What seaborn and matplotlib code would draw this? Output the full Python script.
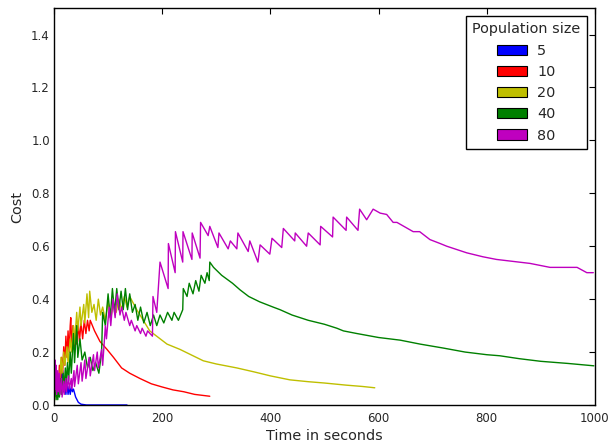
import matplotlib
matplotlib.use("Agg")
import matplotlib.pyplot as plt
from matplotlib.patches import Patch
import seaborn as sns
import pandas as pd

# ---- data ----
series_names = ["5", "10", "20", "40", "80"]
series_colors = ["#0000ff", "#ff0000", "#bfbf00", "#008000", "#bf00bf"]

t_5 = [0, 2, 4, 6, 8, 10, 12, 14, 16, 18, 20, 22, 24, 26, 28, 30, 32, 34, 36, 40, 45, 50, 60, 135]
c_5 = [0.15, 0.05, 0.12, 0.03, 0.10, 0.04, 0.15, 0.06, 0.13, 0.05, 0.10, 0.04, 0.08, 0.04, 0.07,
       0.04, 0.07, 0.05, 0.06, 0.03, 0.01, 0.003, 0.0, 0.0]

t_10 = [0, 2, 4, 6, 8, 10, 12, 14, 16, 18, 20, 22, 24, 26, 28, 30, 31, 33, 35, 37, 40, 42, 45, 47,
        50, 53, 56, 59, 62, 65, 67, 75, 85, 98, 110, 125, 140, 159, 180, 200, 220, 240, 260, 288]
c_10 = [0.05, 0.10, 0.04, 0.12, 0.06, 0.15, 0.08, 0.18, 0.12, 0.22, 0.15, 0.26, 0.18, 0.28, 0.20,
        0.30, 0.33, 0.22, 0.30, 0.21, 0.30, 0.23, 0.31, 0.24, 0.31, 0.25, 0.32, 0.27, 0.32, 0.28,
        0.32, 0.28, 0.24, 0.21, 0.18, 0.14, 0.12, 0.10, 0.08, 0.068, 0.057, 0.05, 0.04, 0.033]

t_20 = [0, 1, 3, 5, 8, 10, 13, 15, 18, 20, 24, 26, 30, 32, 36, 38, 42, 44, 48, 50, 55, 57, 61, 64,
        66, 70, 74, 78, 82, 86, 90, 95, 100, 105, 110, 115, 120, 125, 130, 135, 140, 153, 165,
        177, 209, 233, 276, 300, 338, 370, 400, 436, 470, 500, 540, 570, 593]
c_20 = [0.0, 0.02, 0.05, 0.03, 0.10, 0.08, 0.18, 0.12, 0.20, 0.15, 0.22, 0.16, 0.25, 0.20, 0.30,
        0.23, 0.35, 0.28, 0.37, 0.30, 0.38, 0.31, 0.42, 0.33, 0.43, 0.35, 0.38, 0.32, 0.40, 0.34,
        0.37, 0.32, 0.39, 0.33, 0.38, 0.35, 0.40, 0.36, 0.41, 0.37, 0.41, 0.36, 0.32, 0.28, 0.23,
        0.21, 0.167, 0.155, 0.14, 0.125, 0.11, 0.095, 0.088, 0.083, 0.075, 0.07, 0.065]

t_40 = [0, 1, 3, 4, 6, 7, 9, 10, 13, 14, 17, 18, 21, 22, 25, 27, 30, 32, 36, 38, 42, 44, 48, 52,
        57, 62, 67, 72, 77, 83, 88, 90, 95, 100, 104, 108, 112, 116, 120, 124, 128, 132, 136, 140,
        145, 150, 155, 160, 166, 172, 178, 184, 190, 196, 203, 210, 218, 222, 230, 238, 239, 246,
        250, 257, 262, 268, 272, 279, 283, 287, 288, 295, 300, 310, 330, 344, 360, 380, 405, 418,
        440, 470, 500, 523, 535, 560, 600, 640, 677, 720, 760, 800, 824, 860, 900, 950, 998]
c_40 = [0.20, 0.03, 0.15, 0.02, 0.10, 0.02, 0.08, 0.03, 0.10, 0.04, 0.12, 0.05, 0.14, 0.07, 0.16,
        0.09, 0.20, 0.12, 0.27, 0.16, 0.30, 0.18, 0.25, 0.17, 0.20, 0.14, 0.18, 0.13, 0.16, 0.12,
        0.20, 0.35, 0.30, 0.42, 0.33, 0.44, 0.35, 0.44, 0.36, 0.43, 0.36, 0.44, 0.36, 0.42, 0.35,
        0.38, 0.32, 0.37, 0.31, 0.35, 0.30, 0.34, 0.30, 0.34, 0.31, 0.35, 0.32, 0.35, 0.32, 0.36,
        0.44, 0.41, 0.46, 0.42, 0.47, 0.43, 0.49, 0.46, 0.50, 0.47, 0.54, 0.52, 0.51, 0.49, 0.46,
        0.435, 0.41, 0.39, 0.37, 0.36, 0.34, 0.32, 0.305, 0.29, 0.28, 0.27, 0.255, 0.245, 0.23,
        0.215, 0.20, 0.19, 0.186, 0.175, 0.165, 0.157, 0.148]

t_80 = [0, 1, 2, 3, 4, 5, 7, 8, 10, 11, 14, 15, 18, 19, 22, 23, 27, 28, 32, 33, 37, 38, 43, 45,
        50, 52, 57, 59, 65, 67, 73, 75, 80, 82, 88, 90, 95, 97, 102, 105, 109, 113, 117, 122, 125,
        130, 133, 140, 143, 150, 153, 160, 163, 170, 173, 182, 183, 190, 196, 211, 211.5, 224,
        224.5, 238, 238.5, 255, 255.5, 270, 271, 285, 288, 303, 305, 322, 326, 338, 340, 359, 362,
        377, 381, 399, 403, 421, 424, 445, 446, 467, 470, 492, 493, 515, 516, 540, 541, 562, 565,
        578, 590, 603, 615, 627, 634, 664, 676, 695, 714, 726, 763, 793, 818, 880, 917, 967, 985,
        997]
c_80 = [0.20, 0.05, 0.17, 0.06, 0.15, 0.04, 0.13, 0.05, 0.12, 0.04, 0.10, 0.03, 0.09, 0.04, 0.10,
        0.05, 0.11, 0.06, 0.10, 0.06, 0.13, 0.07, 0.15, 0.08, 0.16, 0.09, 0.17, 0.10, 0.18, 0.11,
        0.19, 0.13, 0.20, 0.14, 0.21, 0.15, 0.30, 0.25, 0.37, 0.30, 0.40, 0.33, 0.42, 0.34, 0.37,
        0.32, 0.35, 0.30, 0.32, 0.28, 0.30, 0.27, 0.29, 0.26, 0.28, 0.26, 0.41, 0.35, 0.54, 0.44,
        0.61, 0.50, 0.655, 0.54, 0.655, 0.55, 0.65, 0.555, 0.69, 0.64, 0.675, 0.595, 0.65, 0.59,
        0.62, 0.59, 0.65, 0.58, 0.62, 0.54, 0.605, 0.57, 0.63, 0.595, 0.667, 0.62, 0.65, 0.60,
        0.65, 0.605, 0.675, 0.635, 0.71, 0.66, 0.71, 0.66, 0.74, 0.70, 0.74, 0.725, 0.72, 0.69,
        0.69, 0.655, 0.655, 0.625, 0.61, 0.60, 0.575, 0.56, 0.55, 0.535, 0.52, 0.52, 0.50, 0.50]

x_ticks = [0, 200, 400, 600, 800, 1000]
y_ticks = [0.0, 0.2, 0.4, 0.6, 0.8, 1.0, 1.2, 1.4]

# ---- build long table ----
frames = []
for name, t, c in zip(series_names,
                      [t_5, t_10, t_20, t_40, t_80],
                      [c_5, c_10, c_20, c_40, c_80]):
    frames.append(pd.DataFrame({"time": t, "cost": c, "size": name}))
df = pd.concat(frames, ignore_index=True)

sns.set_style("white")
plt.rcParams["font.family"] = ["DejaVu Sans"]
plt.rcParams["xtick.direction"] = "in"
plt.rcParams["ytick.direction"] = "in"

fig = plt.figure(figsize=(6.10, 4.47), dpi=100)
ax = fig.add_axes([0.0885, 0.094, 0.8868, 0.888])

palette = dict(zip(series_names, series_colors))
sns.lineplot(data=df, x="time", y="cost", hue="size", hue_order=series_names,
             palette=palette, estimator=None, sort=False, units="size",
             linewidth=1.0, legend=False, ax=ax)

ax.set_xlim(0, 1000)
ax.set_ylim(0, 1.5)
ax.set_xticks(x_ticks)
ax.set_yticks(y_ticks)
ax.set_xticklabels([str(v) for v in x_ticks])
ax.set_yticklabels([f"{v:.1f}" for v in y_ticks])
ax.tick_params(axis="both", which="major", direction="in", length=4, width=0.8,
               top=True, right=True, labelsize=8.5, color="black")
ax.tick_params(axis="x", pad=5)
ax.tick_params(axis="y", pad=3)
for s in ax.spines.values():
    s.set_visible(True)
    s.set_color("black")
    s.set_linewidth(1.0)
ax.set_xlabel("Time in seconds", fontsize=10.4, labelpad=3)
ax.set_ylabel("Cost", fontsize=10.4, labelpad=5)

handles = [Patch(facecolor=col, edgecolor="black", linewidth=0.8, label=n)
           for n, col in zip(series_names, series_colors)]
leg = ax.legend(handles=handles, title="Population size", loc="upper right",
                fontsize=10.4, title_fontsize=10.4, frameon=True, fancybox=False,
                framealpha=1, edgecolor="black", borderaxespad=0.55,
                handlelength=2.1, handleheight=0.7, labelspacing=0.5,
                handletextpad=0.7, borderpad=0.45)
leg.get_frame().set_linewidth(1.0)

fig.savefig("out.png", dpi=100, facecolor="white")
